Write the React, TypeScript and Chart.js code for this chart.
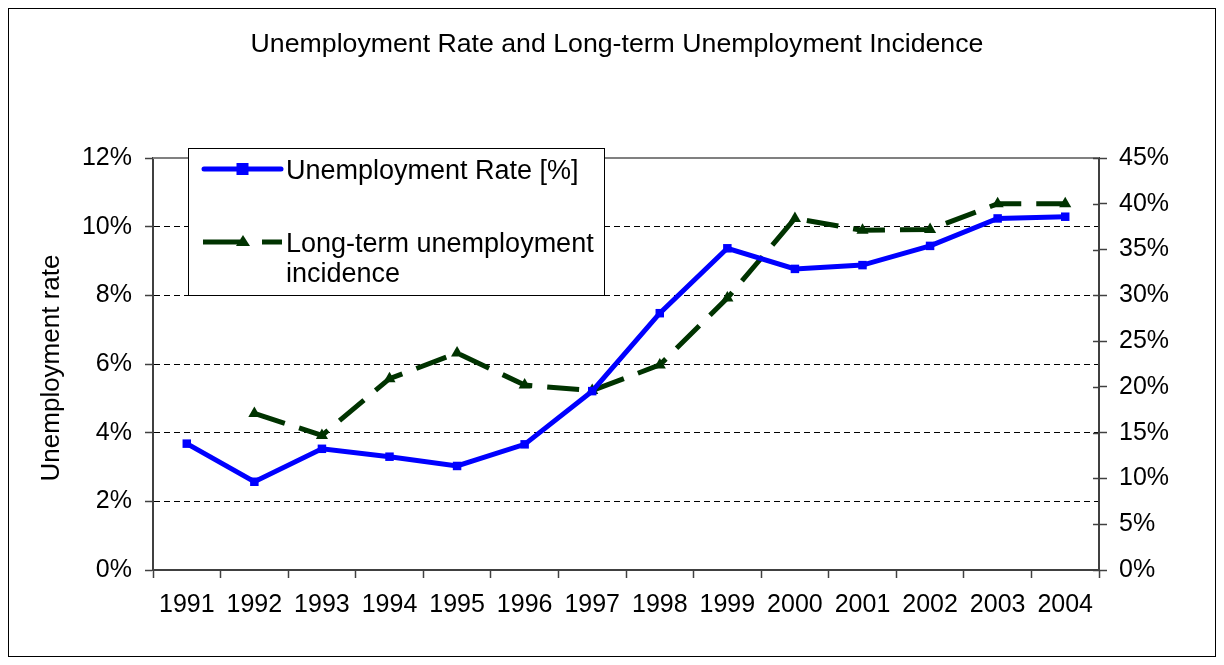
import React, { useEffect, useRef } from 'react';
import { Chart, registerables } from 'chart.js';

Chart.register(...registerables);

const years = ['1991', '1992', '1993', '1994', '1995', '1996', '1997', '1998', '1999', '2000', '2001', '2002', '2003', '2004'];
const unemploymentRate = [3.68, 2.57, 3.53, 3.30, 3.03, 3.66, 5.21, 7.48, 9.37, 8.77, 8.88, 9.44, 10.24, 10.29];
const longTermIncidence = [null, 17.1, 14.7, 20.9, 23.7, 20.2, 19.6, 22.4, 29.7, 38.4, 37.1, 37.2, 40.0, 40.0];
const leftAxisRange = [0, 12, 2];
const rightAxisRange = [0, 45, 5];
const titleText = 'Unemployment Rate and Long-term Unemployment Incidence';
const yTitleText = 'Unemployment rate';
const legendLabels = ['Unemployment Rate [%]', 'Long-term unemployment', 'incidence'];

const FONT = "'Liberation Sans', Arial, sans-serif";
const BLUE = '#0000ff';
const GREEN = '#003300';
const AXIS = '#404040';

const decor = {
  id: 'decor',
  beforeDraw(chart: any) {
    const ctx = chart.ctx;
    ctx.save();
    ctx.fillStyle = '#fff';
    ctx.fillRect(0, 0, chart.width, chart.height);
    ctx.restore();
  },
  afterDraw(chart: any) {
    const ctx = chart.ctx;
    const a = chart.chartArea;
    ctx.save();
    // top border of plot area
    ctx.strokeStyle = '#808080';
    ctx.lineWidth = 2;
    ctx.beginPath();
    ctx.moveTo(a.left, a.top);
    ctx.lineTo(a.right, a.top);
    ctx.stroke();

    // inward ticks of right axis
    const y1 = chart.scales.y1;
    ctx.strokeStyle = AXIS;
    ctx.lineWidth = 1.5;
    y1.ticks.forEach((t: any) => {
      const y = Math.round(y1.getPixelForValue(t.value)) + 0.5;
      ctx.beginPath();
      ctx.moveTo(a.right - 6, y);
      ctx.lineTo(a.right, y);
      ctx.stroke();
    });

    // legend box
    const lx = 180.5, ly = 140.5, lw = 416, lh = 147;
    ctx.fillStyle = '#fff';
    ctx.fillRect(lx, ly, lw, lh);
    ctx.strokeStyle = '#000';
    ctx.lineWidth = 1;
    ctx.strokeRect(lx, ly, lw, lh);

    // blue sample
    ctx.strokeStyle = BLUE;
    ctx.lineWidth = 5;
    ctx.lineCap = 'round';
    ctx.beginPath();
    ctx.moveTo(196, 161);
    ctx.lineTo(273, 161);
    ctx.stroke();
    ctx.fillStyle = BLUE;
    ctx.fillRect(228.5, 155, 12, 12);

    // green sample
    ctx.lineCap = 'butt';
    ctx.strokeStyle = GREEN;
    ctx.lineWidth = 5;
    ctx.beginPath();
    ctx.moveTo(195, 234);
    ctx.lineTo(232, 234);
    ctx.moveTo(254, 234);
    ctx.lineTo(274, 234);
    ctx.stroke();
    ctx.fillStyle = GREEN;
    ctx.beginPath();
    ctx.moveTo(235, 227);
    ctx.lineTo(242, 238);
    ctx.lineTo(228, 238);
    ctx.closePath();
    ctx.fill();

    ctx.fillStyle = '#000';
    ctx.font = `27px ${FONT}`;
    ctx.textAlign = 'left';
    ctx.textBaseline = 'alphabetic';
    ctx.fillText(legendLabels[0], 278, 171);
    ctx.fillText(legendLabels[1], 278, 244);
    ctx.fillText(legendLabels[2], 278, 274);

    // title
    ctx.textAlign = 'center';
    ctx.font = `26.7px ${FONT}`;
    ctx.fillText(titleText, 609, 44);

    // y axis title
    ctx.save();
    ctx.font = `26px ${FONT}`;
    ctx.translate(44, 360);
    ctx.rotate(-Math.PI / 2);
    ctx.textBaseline = 'middle';
    ctx.fillText(yTitleText, 0, 0);
    ctx.restore();

    // outer frame
    ctx.strokeStyle = '#000';
    ctx.lineWidth = 1;
    ctx.strokeRect(0.5, 0.5, chart.width - 1, chart.height - 1);
    ctx.restore();
  },
};

export default function App() {
  const ref = useRef<HTMLCanvasElement>(null);

  useEffect(() => {
    if (!ref.current) return;
    const tickFont = { family: FONT, size: 25 };
    const chart = new Chart(ref.current, {
      type: 'line',
      data: {
        labels: years,
        datasets: [
          {
            label: legendLabels[0],
            data: unemploymentRate,
            yAxisID: 'y',
            borderColor: BLUE,
            backgroundColor: BLUE,
            borderWidth: 5,
            pointStyle: 'rect',
            pointRadius: 6,
            pointBorderWidth: 0,
            tension: 0,
            order: 1,
          },
          {
            label: legendLabels[1] + ' ' + legendLabels[2],
            data: longTermIncidence,
            yAxisID: 'y1',
            borderColor: GREEN,
            backgroundColor: GREEN,
            borderWidth: 5,
            borderDash: [32, 15],
            pointStyle: 'triangle',
            pointRadius: 7,
            pointBorderWidth: 0,
            tension: 0,
            order: 2,
          },
        ],
      },
      options: {
        responsive: false,
        maintainAspectRatio: false,
        animation: false,
        events: [],
        layout: { padding: { top: 150, left: 0, right: 0, bottom: 0 } },
        plugins: {
          legend: { display: false },
          title: { display: false },
          tooltip: { enabled: false },
        },
        scales: {
          x: {
            type: 'category',
            offset: true,
            afterFit: (s: any) => { s.height = 87; },
            grid: {
              offset: true,
              drawOnChartArea: false,
              drawTicks: true,
              tickLength: 8,
              tickColor: AXIS,
              tickWidth: 1.5,
            },
            border: { display: true, color: AXIS, width: 2 },
            ticks: {
              color: '#000',
              font: tickFont,
              padding: 12,
              maxRotation: 0,
              autoSkip: false,
            },
          },
          y: {
            position: 'left',
            min: leftAxisRange[0],
            max: leftAxisRange[1],
            afterFit: (s: any) => { s.width = 145; },
            ticks: {
              stepSize: leftAxisRange[2],
              color: '#000',
              font: tickFont,
              padding: 13,
              callback: (v: any) => v + '%',
            },
            grid: {
              color: (c: any) =>
                c.tick && (c.tick.value === leftAxisRange[0] || c.tick.value === leftAxisRange[1])
                  ? 'rgba(0,0,0,0)'
                  : '#000',
              lineWidth: 1,
              drawTicks: true,
              tickLength: 8,
              tickColor: AXIS,
              tickWidth: 1.5,
              tickBorderDash: [],
            },
            border: { display: true, color: AXIS, width: 2, dash: [6, 4] },
          },
          y1: {
            position: 'right',
            min: rightAxisRange[0],
            max: rightAxisRange[1],
            afterFit: (s: any) => { s.width = 117; },
            ticks: {
              stepSize: rightAxisRange[2],
              color: '#000',
              font: tickFont,
              padding: 12,
              callback: (v: any) => v + '%',
            },
            grid: {
              drawOnChartArea: false,
              drawTicks: true,
              tickLength: 8,
              tickColor: AXIS,
              tickWidth: 1.5,
              tickBorderDash: [],
            },
            border: { display: true, color: AXIS, width: 2 },
          },
        },
      },
      plugins: [decor],
    });
    return () => chart.destroy();
  }, []);

  return (
    <div style={{ width: 1208, height: 649 }}>
      <canvas ref={ref} width={1208} height={649} style={{ display: 'block' }} />
    </div>
  );
}
